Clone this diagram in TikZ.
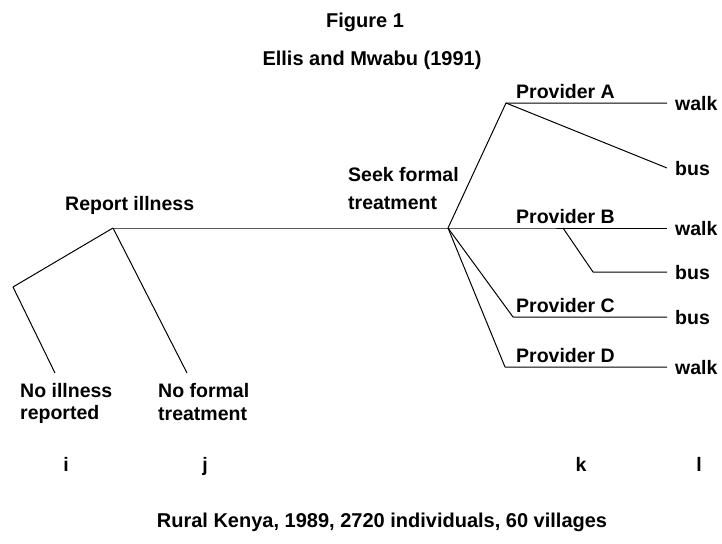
\documentclass[tikz,border=0pt]{standalone}
\usepackage{fontspec}
\setmainfont{Liberation Sans}
\begin{document}
\begin{tikzpicture}[x=1pt,y=-1pt,
  lbl/.style={inner sep=0pt, font=\fontsize{19.5}{22}\selectfont\bfseries},
  ttl/.style={inner sep=0pt, font=\fontsize{20}{24}\selectfont\bfseries},
  edge/.style={draw=black, line width=1pt, line join=round}]
\useasboundingbox[fill=white] (0,0) rectangle (722,543);
% titles
\node[ttl] (fig) at (365,22) {Figure 1};
\node[ttl] (src) at (372,60) {Ellis and Mwabu (1991)};
% branch points
\coordinate (R) at (113,228);
\coordinate (S) at (448,228);
\coordinate (NIb) at (13,287);
\coordinate (NIe) at (55,373);
\coordinate (NFe) at (187,373);
\coordinate (PA) at (506,103);
\coordinate (PAw) at (667,103);
\coordinate (PAb) at (667,168);
\coordinate (PBw) at (667,228);
\coordinate (PB) at (563,228);
\coordinate (PBk) at (593,272);
\coordinate (PBb) at (667,272);
\coordinate (PC) at (513,317);
\coordinate (PCb) at (667,317);
\coordinate (PD) at (505,367);
\coordinate (PDw) at (667,367);
% connectors
\draw[edge] (R) -- (S) -- (PBw);
\draw[edge] (R) -- (NIb) -- (NIe);
\draw[edge] (R) -- (NFe);
\draw[edge] (S) -- (PA) -- (PAw);
\draw[edge] (PA) -- (PAb);
\draw[edge] (PB) -- (PBk) -- (PBb);
\draw[edge] (S) -- (PC) -- (PCb);
\draw[edge] (S) -- (PD) -- (PDw);
% labels
\node[lbl, anchor=west] (rep) at (65,205) {Report illness};
\node[lbl, anchor=west] (seek1) at (348,175) {Seek formal};
\node[lbl, anchor=west] (seek2) at (348,203) {treatment};
\node[lbl, anchor=base west] (pa) at (516,98) {Provider A};
\node[lbl, anchor=base west] (pb) at (516,223) {Provider B};
\node[lbl, anchor=base west] (pc) at (516,312) {Provider C};
\node[lbl, anchor=base west] (pd) at (516,362) {Provider D};
\node[lbl, anchor=base west] (w1) at (675,110) {walk};
\node[lbl, anchor=base west] (b1) at (675,175) {bus};
\node[lbl, anchor=base west] (w2) at (675,235) {walk};
\node[lbl, anchor=base west] (b2) at (675,279) {bus};
\node[lbl, anchor=base west] (b3) at (675,324) {bus};
\node[lbl, anchor=base west] (w3) at (675,374) {walk};
\node[lbl, anchor=west] (ni1) at (20,391) {No illness};
\node[lbl, anchor=west] (ni2) at (20,414) {reported};
\node[lbl, anchor=west] (nf1) at (158,391) {No formal};
\node[lbl, anchor=west] (nf2) at (158,414) {treatment};
\node[lbl, anchor=base] (li) at (66,471) {i};
\node[lbl, anchor=base] (lj) at (205,471) {j};
\node[lbl, anchor=base] (lk) at (581,471) {k};
\node[lbl, anchor=base] (ll) at (699,471) {l};
\node[ttl] (foot) at (382,522) {Rural Kenya, 1989, 2720 individuals, 60 villages};
\end{tikzpicture}
\end{document}
